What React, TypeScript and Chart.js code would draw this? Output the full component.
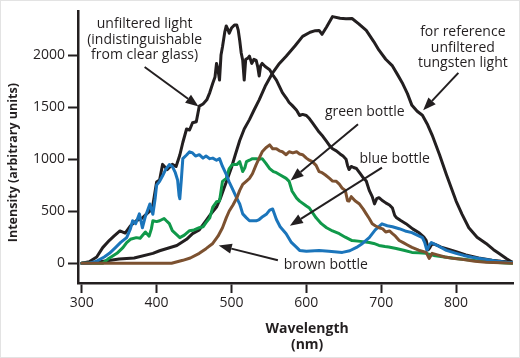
import React, { useEffect, useRef } from "react";
import { Chart, registerables } from "chart.js";

Chart.register(...registerables);

// ---------- data (wavelength in nm, intensity in arbitrary units) ----------
const unfilteredNm = [300, 310, 320, 328, 337, 343, 351, 358, 365, 373, 380, 386, 391, 395, 400, 404, 408, 414, 421, 426, 431, 435, 440, 444, 448, 453, 457, 462, 467, 471, 475, 478, 480, 482, 484, 486, 488, 491, 493, 495, 497, 500, 504, 507, 509, 511, 513, 515, 517, 519, 522, 524, 527, 530, 533, 535, 537, 539, 541, 545, 551, 556, 560, 564, 568, 573, 577, 581, 587, 591, 595, 600, 604, 608, 613, 617, 622, 627, 631, 635, 640, 645, 649, 653, 655, 657, 660, 663, 667, 672, 676, 680, 684, 688, 691, 694, 697, 702, 706, 711, 715, 718, 720, 726, 733, 742, 751, 757, 760, 763, 765, 768, 772, 780, 787, 800, 813, 830, 848, 860, 875];
const unfilteredVal = [0, 15, 60, 150, 220, 260, 310, 290, 360, 410, 430, 470, 500, 560, 780, 800, 950, 900, 950, 930, 1040, 1160, 1290, 1280, 1350, 1360, 1510, 1530, 1570, 1640, 1730, 1790, 1920, 1860, 1760, 2000, 2080, 2220, 2280, 2250, 2210, 2260, 2290, 2290, 2240, 2140, 2020, 1950, 1760, 1960, 1970, 1990, 1920, 1960, 1950, 1890, 1800, 1900, 1920, 1890, 1860, 1800, 1760, 1700, 1640, 1590, 1545, 1517, 1470, 1420, 1430, 1420, 1390, 1350, 1300, 1260, 1220, 1170, 1130, 1100, 1080, 1050, 1030, 1000, 940, 900, 930, 920, 910, 860, 820, 790, 700, 640, 570, 620, 630, 600, 580, 560, 530, 460, 440, 410, 380, 330, 290, 250, 220, 130, 150, 190, 180, 155, 140, 110, 80, 50, 28, 18, 10];

const tungstenNm = [300, 320, 350, 370, 395, 404, 427, 440, 448, 457, 465, 471, 480, 485, 490, 495, 500, 505, 511, 517, 524, 530, 537, 545, 555, 564, 573, 585, 595, 605, 612, 617, 621, 627, 635, 645, 653, 661, 670, 680, 690, 697, 706, 715, 722, 728, 735, 741, 748, 755, 762, 768, 778, 787, 800, 808, 817, 828, 840, 850, 857, 867, 875];
const tungstenVal = [0, 10, 40, 50, 95, 120, 170, 230, 284, 320, 400, 460, 540, 620, 720, 820, 920, 1040, 1180, 1290, 1380, 1470, 1570, 1700, 1830, 1920, 1990, 2090, 2180, 2220, 2235, 2237, 2200, 2270, 2370, 2355, 2350, 2352, 2300, 2237, 2130, 2047, 1960, 1896, 1810, 1735, 1630, 1517, 1460, 1422, 1330, 1232, 1040, 853, 597, 470, 341, 250, 190, 130, 95, 45, 10];

const blueNm = [300, 310, 320, 330, 337, 345, 352, 360, 365, 368, 372, 377, 381, 385, 391, 393, 395, 398, 400, 404, 408, 412, 417, 421, 425, 428, 430, 431, 433, 435, 440, 444, 448, 452, 457, 462, 466, 471, 475, 480, 484, 488, 493, 497, 501, 507, 511, 515, 520, 524, 528, 533, 537, 542, 547, 551, 555, 560, 565, 573, 580, 587, 591, 600, 617, 630, 648, 658, 667, 675, 684, 692, 701, 708, 715, 724, 732, 741, 748, 755, 758, 761, 764, 767, 775, 787, 800, 810, 821, 840, 855, 867, 875];
const blueVal = [0, 0, 20, 60, 95, 150, 200, 246, 330, 408, 380, 474, 341, 450, 569, 520, 470, 620, 750, 787, 840, 900, 948, 930, 870, 800, 650, 620, 800, 1005, 1040, 1071, 1060, 1030, 1043, 1010, 1030, 1005, 1010, 990, 1005, 930, 853, 780, 720, 626, 569, 474, 436, 408, 408, 408, 420, 450, 474, 510, 521, 420, 350, 284, 200, 152, 123, 115, 123, 115, 104, 120, 152, 190, 246, 320, 379, 360, 350, 332, 310, 294, 270, 246, 200, 123, 170, 199, 170, 123, 95, 75, 57, 35, 20, 10, 8];

const greenNm = [300, 320, 328, 335, 347, 355, 360, 365, 373, 378, 385, 390, 393, 395, 400, 404, 410, 413, 417, 421, 426, 431, 437, 444, 450, 457, 462, 466, 471, 475, 480, 484, 488, 493, 497, 501, 507, 511, 515, 518, 520, 524, 528, 533, 537, 541, 546, 551, 556, 560, 564, 573, 577, 581, 587, 591, 600, 604, 613, 620, 627, 635, 644, 652, 661, 672, 684, 690, 697, 705, 710, 720, 730, 741, 750, 760, 770, 787, 800, 821, 845, 867, 875];
const greenVal = [0, 0, 0, 40, 95, 150, 199, 230, 246, 240, 300, 260, 330, 408, 400, 408, 430, 408, 380, 313, 280, 246, 270, 313, 320, 341, 350, 390, 436, 540, 590, 597, 787, 815, 910, 948, 948, 976, 881, 920, 976, 990, 1005, 1005, 1000, 1005, 960, 910, 880, 870, 853, 815, 787, 692, 626, 597, 550, 531, 436, 380, 341, 310, 284, 250, 218, 210, 199, 190, 171, 160, 155, 142, 125, 104, 100, 95, 75, 57, 45, 28, 12, 3, 0];

const brownNm = [300, 420, 435, 445, 457, 466, 475, 482, 488, 493, 497, 502, 507, 511, 515, 520, 524, 528, 533, 537, 541, 546, 551, 555, 560, 564, 568, 573, 577, 582, 587, 591, 595, 600, 604, 608, 613, 617, 621, 625, 631, 635, 640, 644, 648, 652, 655, 657, 660, 665, 671, 676, 680, 684, 688, 692, 697, 702, 706, 711, 715, 719, 724, 730, 735, 741, 750, 760, 764, 766, 768, 775, 785, 795, 810, 825, 840, 860, 875];
const brownVal = [0, 0, 28, 50, 95, 140, 190, 260, 341, 436, 502, 560, 626, 700, 758, 790, 815, 860, 948, 1010, 1071, 1110, 1137, 1100, 1100, 1080, 1071, 1043, 1071, 1060, 1071, 1050, 1043, 1010, 990, 976, 940, 881, 870, 850, 815, 790, 787, 760, 720, 700, 600, 597, 640, 600, 569, 520, 474, 430, 379, 360, 341, 330, 300, 310, 284, 260, 218, 195, 175, 152, 125, 104, 47, 70, 95, 80, 60, 47, 35, 20, 10, 5, 0];

const xTicks = [300, 400, 500, 600, 700, 800];
const yTicks = [0, 500, 1000, 1500, 2000];

// ---------- styling ----------
const INK = "#231f20";
const BLUE = "#1b75bb";
const GREEN = "#10994a";
const BROWN = "#7c5130";
const FONT = '"Open Sans", sans-serif';

// annotation labels & arrows, positioned in data units (nm, intensity)
const labels = [
  { nm: 384, v: 2294, lines: ["unfiltered light", "(indistinguishable", "from clear glass)"] },
  { nm: 809, v: 2218, lines: ["for reference", "unfiltered", "tungsten light"] },
  { nm: 678, v: 1450, lines: ["green bottle"] },
  { nm: 718, v: 1005, lines: ["blue bottle"] },
  { nm: 626, v: -19, lines: ["brown bottle"] },
];
const arrows = [
  { from: [384, 1886], to: [456, 1507] },
  { from: [803, 1829], to: [756, 1469] },
  { from: [669, 1336], to: [579, 796] },
  { from: [701, 919], to: [578, 360] },
  { from: [562, 28], to: [483, 171] },
];

const toPoints = (xs: number[], ys: number[]) => xs.map((x, i) => ({ x, y: ys[i] }));

const annotationPlugin = {
  id: "annotations",
  afterDatasetsDraw(chart: any) {
    const { ctx, scales, chartArea } = chart;
    const xs = scales.x;
    const ys = scales.y;
    ctx.save();
    ctx.fillStyle = INK;
    ctx.strokeStyle = INK;
    ctx.font = `14px ${FONT}`;
    ctx.textAlign = "center";
    ctx.textBaseline = "middle";
    for (const l of labels) {
      const px = xs.getPixelForValue(l.nm);
      const py = ys.getPixelForValue(l.v);
      l.lines.forEach((t, i) => ctx.fillText(t, px, py + i * 15.5));
    }
    for (const a of arrows) {
      const x1 = xs.getPixelForValue(a.from[0]);
      const y1 = ys.getPixelForValue(a.from[1]);
      const x2 = xs.getPixelForValue(a.to[0]);
      const y2 = ys.getPixelForValue(a.to[1]);
      const ang = Math.atan2(y2 - y1, x2 - x1);
      const hl = 13;
      const hw = 5;
      const bx = x2 - hl * Math.cos(ang);
      const by = y2 - hl * Math.sin(ang);
      ctx.lineWidth = 2;
      ctx.beginPath();
      ctx.moveTo(x1, y1);
      ctx.lineTo(bx, by);
      ctx.stroke();
      ctx.beginPath();
      ctx.moveTo(x2, y2);
      ctx.lineTo(bx + hw * Math.sin(ang), by - hw * Math.cos(ang));
      ctx.lineTo(bx - hw * Math.sin(ang), by + hw * Math.cos(ang));
      ctx.closePath();
      ctx.fill();
    }
    // axis titles
    ctx.font = `bold 14px ${FONT}`;
    const cx = xs.getPixelForValue(601);
    ctx.fillText("Wavelength", cx, chartArea.bottom + 46);
    ctx.fillText("(nm)", cx, chartArea.bottom + 62);
    ctx.font = `bold 12.5px ${FONT}`;
    ctx.translate(13, ys.getPixelForValue(967));
    ctx.rotate(-Math.PI / 2);
    ctx.fillText("Intensity (arbitrary units)", 0, 0);
    ctx.restore();
  },
  afterDraw(chart: any) {
    const { ctx, width, height } = chart;
    ctx.save();
    ctx.strokeStyle = "#e3e3e3";
    ctx.lineWidth = 1;
    ctx.strokeRect(0.5, 0.5, width - 1, height - 1);
    ctx.restore();
  },
};

export default function App() {
  const canvasRef = useRef<HTMLCanvasElement | null>(null);

  useEffect(() => {
    if (!canvasRef.current) return;
    const line = (data: any[], color: string) => ({
      data,
      borderColor: color,
      backgroundColor: color,
      borderWidth: 3,
      pointRadius: 0,
      tension: 0,
      fill: false,
      borderJoinStyle: "round" as const,
      borderCapStyle: "round" as const,
    });
    const chart = new Chart(canvasRef.current, {
      type: "line",
      data: {
        datasets: [
          line(toPoints(brownNm, brownVal), BROWN),
          line(toPoints(blueNm, blueVal), BLUE),
          line(toPoints(greenNm, greenVal), GREEN),
          line(toPoints(unfilteredNm, unfilteredVal), INK),
          line(toPoints(tungstenNm, tungstenVal), INK),
        ],
      },
      options: {
        animation: false,
        responsive: false,
        maintainAspectRatio: false,
        layout: { padding: { top: 8, right: 7, left: 0, bottom: 0 } },
        plugins: { legend: { display: false }, tooltip: { enabled: false } },
        scales: {
          x: {
            type: "linear",
            min: 295,
            max: 876,
            afterBuildTicks: (s: any) => {
              s.ticks = xTicks.map((v) => ({ value: v }));
            },
            afterFit: (s: any) => {
              s.height = 75;
            },
            ticks: {
              color: INK,
              font: { family: FONT, size: 14 },
              padding: 2,
              maxRotation: 0,
              autoSkip: false,
              callback: (v: any) => String(v),
            },
            grid: {
              display: true,
              drawOnChartArea: false,
              drawTicks: true,
              tickLength: 10,
              tickWidth: 2,
              color: INK,
            },
            border: { display: true, color: INK, width: 2.5 },
          },
          y: {
            type: "linear",
            min: -190,
            max: 2420,
            afterBuildTicks: (s: any) => {
              s.ticks = yTicks.map((v) => ({ value: v }));
            },
            afterFit: (s: any) => {
              s.width = 78;
            },
            ticks: {
              color: INK,
              font: { family: FONT, size: 14 },
              padding: 3,
              autoSkip: false,
              callback: (v: any) => String(v),
            },
            grid: {
              display: true,
              drawOnChartArea: false,
              drawTicks: true,
              tickLength: 10,
              tickWidth: 2,
              color: INK,
            },
            border: { display: true, color: INK, width: 2.5 },
          },
        },
      },
      plugins: [annotationPlugin],
    });
    return () => chart.destroy();
  }, []);

  return (
    <div style={{ position: "absolute", left: 0, top: 0, width: 520, height: 358, background: "#fff" }}>
      <canvas ref={canvasRef} width={520} height={358} />
    </div>
  );
}
